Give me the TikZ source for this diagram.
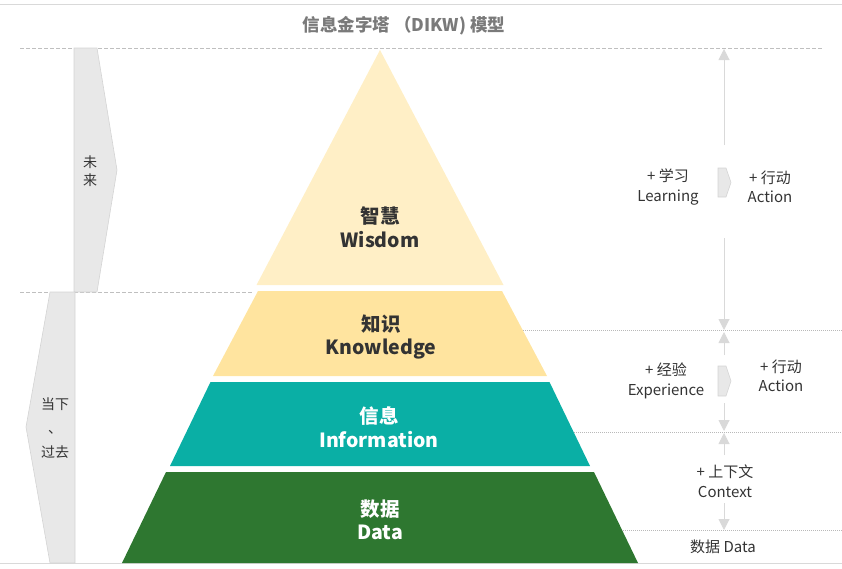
\documentclass[tikz,border=0pt]{standalone}
\usepackage{fontspec}
\setmainfont{Noto Sans CJK SC}
\usetikzlibrary{arrows.meta}

\definecolor{wisdomc}{HTML}{FFEFC6}
\definecolor{knowc}{HTML}{FFE49F}
\definecolor{infoc}{HTML}{0AAFA5}
\definecolor{datac}{HTML}{2E7730}
\definecolor{shadec}{HTML}{E8E8E8}
\definecolor{edgec}{HTML}{D4D4D4}
\definecolor{rulec}{HTML}{D9D9D9}
\definecolor{textc}{HTML}{333333}
\definecolor{titlec}{HTML}{7A7A7A}

\tikzset{
	lvl/.style={font=\bfseries\fontsize{19.5}{23.5}\selectfont, align=center},
	side/.style={font=\fontsize{15}{19.5}\selectfont, text=textc, align=center},
	flow/.style={draw=rulec, line width=1pt, -{Triangle[width=11pt,length=11pt]}},
	guide/.style={draw=gray!50, dash pattern=on 4pt off 2pt, line width=0.6pt},
	fine/.style={draw=gray!55, dash pattern=on 1pt off 1pt, line width=0.6pt},
	tab/.style={fill=shadec, draw=edgec, line width=0.6pt},
}

\begin{document}
\begin{tikzpicture}[x=1pt, y=-1pt]
	\useasboundingbox (0, 0) rectangle (842, 568);
	
	% frame lines
	\draw[rulec, line width=1pt] (0, 4) -- (842, 4);
	\draw[rulec, line width=1pt] (0, 563) -- (842, 563);
	\node[font=\bfseries\fontsize{17.5}{20}\selectfont, text=titlec] (title) at (404, 26) {信息金字塔 （DIKW) 模型};
	
	\draw[guide] (20, 48) -- (822, 48);
	\draw[guide] (20, 292) -- (252, 292);
	\draw[fine] (523, 330) -- (842, 330);
	\draw[fine] (572, 432) -- (842, 432);
	\draw[fine] (621, 530) -- (842, 530);
	
	% pyramid
	\fill[wisdomc] (380, 50) -- (503.5, 285) -- (256.5, 285) -- cycle;
	\fill[knowc] (258, 291) -- (502, 291) -- (547, 376) -- (213, 376) -- cycle;
	\fill[infoc] (210.5, 382) -- (549.5, 382) -- (590, 466) -- (170, 466) -- cycle;
	\fill[datac] (166, 472) -- (594, 472) -- (638, 563) -- (122, 563) -- cycle;
	
	\node[lvl, text=textc] (wisdom) at (380, 227) {智慧\\Wisdom};
	\node[lvl, text=textc] (know) at (381, 337) {知识\\Knowledge};
	\node[lvl, text=white] (info) at (379, 427) {信息\\Information};
	\node[lvl, text=white] (data) at (380, 520) {数据\\Data};
	
	% time tabs
	\draw[tab] (74, 48) -- (97, 48) -- (117, 170) -- (97, 292) -- (74, 292) -- cycle;
	\draw[tab] (75, 292) -- (50, 292) -- (26, 427) -- (50, 563) -- (75, 563) -- cycle;
	\node[side, font=\fontsize{14}{18.5}\selectfont] (future) at (90, 171) {未\\来};
	\node[side, font=\fontsize{14}{24}\selectfont] (past) at (55, 428) {当下\\、\\过去};
	
	% right side
	\coordinate (a1) at (724, 145);
	\coordinate (b1) at (724, 49);
	\coordinate (a2) at (724, 238);
	\coordinate (b2) at (724, 330);
	\coordinate (a3) at (724, 355);
	\coordinate (b3) at (724, 332);
	\coordinate (a4) at (724, 403);
	\coordinate (b4) at (724, 431);
	\coordinate (a5) at (724, 455);
	\coordinate (b5) at (724, 433);
	\coordinate (a6) at (724, 503);
	\coordinate (b6) at (724, 530);
	\foreach \i in {1,...,6}
		\draw[flow] (a\i) -- (b\i);
	
	\draw[tab] (718, 168) -- (726, 168) -- (731, 182.5) -- (726, 197) -- (718, 197) -- cycle;
	\draw[tab] (718, 366) -- (726, 366) -- (731, 381) -- (726, 396) -- (718, 396) -- cycle;
	
	\node[side] (learn) at (668, 187) {+ 学习\\Learning};
	\node[side] (act1) at (770, 187) {+ 行动\\Action};
	\node[side] (exper) at (666, 381) {+ 经验\\Experience};
	\node[side] (act2) at (781, 376) {+ 行动\\Action};
	\node[side] (context) at (725, 481) {+ 上下文\\Context};
	\node[side] (raw) at (723, 547) {数据 Data};
\end{tikzpicture}
\end{document}
